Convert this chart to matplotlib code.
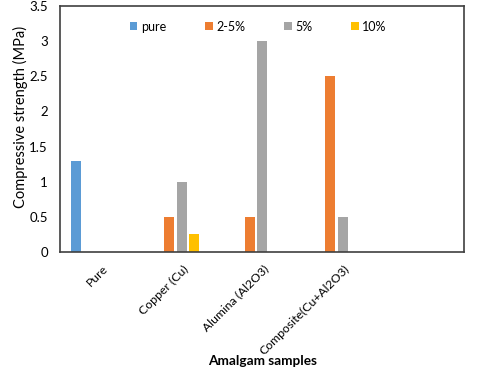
import numpy as np
from matplotlib import pyplot as plt
from matplotlib.transforms import ScaledTranslation

plt.rcParams['font.family'] = ['Lato', 'DejaVu Sans']

categories = ['Pure', 'Copper (Cu)', 'Alumina (Al2O3)', 'Composite(Cu+Al2O3)', '']
series = ['pure', '2-5%', '5%', '10%']
pure = [1.3, 0, 0, 0, 0]
low = [0, 0.5, 0.5, 2.5, 0]
mid = [0, 1.0, 3.0, 0.5, 0]
high = [0, 0.25, 0, 0, 0]
colors = ['#5B9BD5', '#ED7D31', '#A5A5A5', '#FFC000']

fig = plt.figure(figsize=(4.8, 3.69), dpi=100)
ax = fig.add_axes([0.126, 0.317, 0.841, 0.667])

x = np.arange(len(categories))
step = 0.156
width = 0.124
# Excel grouping has 5 slots per category, the last one is empty
for i, (name, vals) in enumerate(zip(series, [pure, low, mid, high])):
    ax.bar(x + (i - 2) * step, vals, width, color=colors[i], label=name)

ax.set_xlim(-0.5, len(categories) - 0.5)
ax.set_ylim(0, 3.5)
ax.set_yticks(np.arange(0, 3.51, 0.5))
ax.set_yticklabels(['0', '0.5', '1', '1.5', '2', '2.5', '3', '3.5'])
ax.set_xticks(x)
ax.set_xticklabels(categories, rotation=45, ha='right', va='top', rotation_mode='anchor')
ax.tick_params(axis='both', length=0, colors='#000000')
ax.tick_params(axis='y', labelsize=9.5, pad=9)
ax.tick_params(axis='x', labelsize=8.8, pad=8)
shift = ScaledTranslation(1 / 100, 0, fig.dpi_scale_trans)
for lab in ax.get_xticklabels():
    lab.set_transform(lab.get_transform() + shift)
for s in ax.spines.values():
    s.set_color('#404040')
    s.set_linewidth(1.2)

ax.set_ylabel('Compressive strength (MPa)', fontsize=10.5)
ax.yaxis.set_label_coords(-0.08, 0.55)
ax.set_xlabel('Amalgam samples', fontsize=9.8, fontweight='bold')
ax.xaxis.set_label_coords(0.5, -0.42)

ax.legend(loc='center', bbox_to_anchor=(0.49, 0.915), ncol=4, frameon=False,
          fontsize=9, handlelength=0.6, handleheight=0.6, handletextpad=0.3,
          columnspacing=3.1)

fig.savefig('out.png', dpi=100)
